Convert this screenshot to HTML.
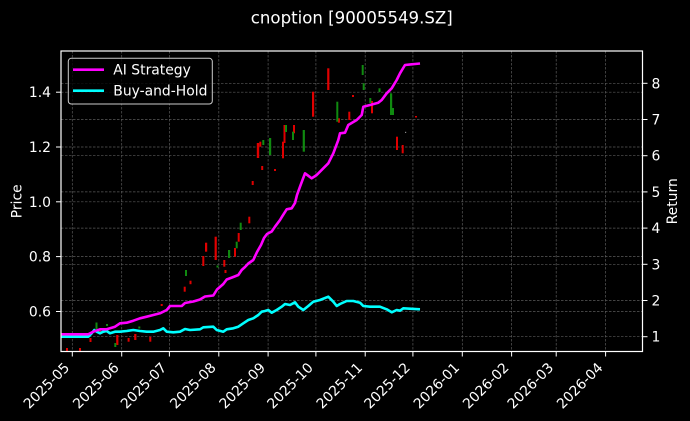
<!DOCTYPE html>
<html><head><meta charset="utf-8"><style>
html,body{margin:0;padding:0;background:#000;}
svg{display:block;}
text{font-family:"DejaVu Sans","Liberation Sans",sans-serif;fill:#fff;}
</style></head><body>
<svg width="690" height="421" viewBox="0 0 690 421" xmlns="http://www.w3.org/2000/svg">
<rect x="0" y="0" width="690" height="421" fill="#000"/>
<text x="351.8" y="23.5" font-size="16.6" text-anchor="middle">cnoption [90005549.SZ]</text>
<g stroke="#5a5a5a" stroke-width="0.7" stroke-dasharray="2.5,1.5" fill="none">
<line x1="72.3" y1="51" x2="72.3" y2="351.5"/>
<line x1="121.7" y1="51" x2="121.7" y2="351.5"/>
<line x1="169.4" y1="51" x2="169.4" y2="351.5"/>
<line x1="218.8" y1="51" x2="218.8" y2="351.5"/>
<line x1="268.1" y1="51" x2="268.1" y2="351.5"/>
<line x1="315.9" y1="51" x2="315.9" y2="351.5"/>
<line x1="365.2" y1="51" x2="365.2" y2="351.5"/>
<line x1="412.9" y1="51" x2="412.9" y2="351.5"/>
<line x1="462.3" y1="51" x2="462.3" y2="351.5"/>
<line x1="511.6" y1="51" x2="511.6" y2="351.5"/>
<line x1="556.2" y1="51" x2="556.2" y2="351.5"/>
<line x1="605.6" y1="51" x2="605.6" y2="351.5"/>
<line x1="61" y1="311.5" x2="642.5" y2="311.5"/>
<line x1="61" y1="256.6" x2="642.5" y2="256.6"/>
<line x1="61" y1="201.8" x2="642.5" y2="201.8"/>
<line x1="61" y1="147" x2="642.5" y2="147"/>
<line x1="61" y1="92.2" x2="642.5" y2="92.2"/>
<line x1="61" y1="336.7" x2="642.5" y2="336.7"/>
<line x1="61" y1="300.5" x2="642.5" y2="300.5"/>
<line x1="61" y1="264.3" x2="642.5" y2="264.3"/>
<line x1="61" y1="228.1" x2="642.5" y2="228.1"/>
<line x1="61" y1="191.9" x2="642.5" y2="191.9"/>
<line x1="61" y1="155.7" x2="642.5" y2="155.7"/>
<line x1="61" y1="119.5" x2="642.5" y2="119.5"/>
<line x1="61" y1="83.3" x2="642.5" y2="83.3"/>
</g>
<!-- candles -->
<g fill="#e00000">
<rect x="66" y="348" width="2" height="3.5"/>
<rect x="79" y="348" width="2" height="3.5"/>
<rect x="89.5" y="338" width="2" height="4"/>
<rect x="99.2" y="330.5" width="2" height="2.5"/>
<rect x="116.2" y="335" width="2.2" height="10"/>
<rect x="127.6" y="338" width="2" height="3.7"/>
<rect x="134.2" y="334" width="2.2" height="6"/>
<rect x="149.3" y="336.7" width="2" height="5"/>
<rect x="160.7" y="304" width="2" height="2"/>
<rect x="183.7" y="286.7" width="2" height="5"/>
<rect x="189.5" y="280.7" width="2" height="3.5"/>
<rect x="202.3" y="256" width="2" height="10"/>
<rect x="205" y="242.7" width="2.2" height="9"/>
<rect x="214.6" y="236.7" width="2.2" height="23.3"/>
<rect x="223.3" y="260" width="2" height="6.7"/>
<rect x="224.5" y="270" width="2" height="3"/>
<rect x="234" y="248" width="2" height="8.7"/>
<rect x="237.7" y="233" width="2" height="8.7"/>
<rect x="248.3" y="216.7" width="2" height="6.6"/>
<rect x="251.7" y="181" width="2" height="4"/>
<rect x="256.8" y="143" width="2.4" height="15"/>
<rect x="259.3" y="141.7" width="2" height="5"/>
<rect x="261.2" y="166" width="2" height="4"/>
<rect x="274" y="169" width="2" height="2"/>
<rect x="282" y="141.7" width="2" height="16.6"/>
<rect x="283.5" y="125" width="2" height="18"/>
<rect x="293" y="125" width="2" height="8.3"/>
<rect x="312" y="91.7" width="2.2" height="25"/>
<rect x="327.2" y="68.3" width="2.2" height="21.7"/>
<rect x="337.9" y="118.3" width="2" height="4.4"/>
<rect x="348.3" y="111.7" width="2" height="8.3"/>
<rect x="352" y="95" width="2" height="2"/>
<rect x="371" y="101" width="2" height="12.3"/>
<rect x="396" y="136.7" width="2" height="13.3"/>
<rect x="401.7" y="145" width="2" height="8.3"/>
<rect x="415" y="116" width="2" height="1.5"/>
</g>
<g fill="#108a10">
<rect x="95.5" y="322.5" width="2" height="6.5"/>
<rect x="106" y="324" width="2" height="2"/>
<rect x="114.3" y="343" width="2" height="4"/>
<rect x="138.3" y="326.5" width="2" height="2"/>
<rect x="185" y="270" width="2" height="6"/>
<rect x="216.5" y="265.5" width="2" height="2"/>
<rect x="228" y="250" width="2.2" height="8"/>
<rect x="235.7" y="241.7" width="2" height="6.6"/>
<rect x="239.7" y="222.7" width="2" height="7.3"/>
<rect x="262.3" y="140" width="2" height="5"/>
<rect x="269" y="138" width="2.2" height="17"/>
<rect x="285" y="125" width="2" height="7"/>
<rect x="292" y="131.7" width="2" height="8.3"/>
<rect x="302.7" y="130" width="2.2" height="21.7"/>
<rect x="336.3" y="101.7" width="2" height="20"/>
<rect x="361.7" y="65" width="2" height="10"/>
<rect x="362.7" y="83.3" width="2" height="6.7"/>
<rect x="369.3" y="98" width="2" height="5"/>
<rect x="378.5" y="88.3" width="2" height="3.7"/>
<rect x="390" y="93.3" width="2.2" height="21.7"/>
<rect x="392" y="108" width="2" height="7"/>
</g>
<rect x="405" y="131.8" width="1.2" height="1.2" fill="#888"/>
<!-- Buy-and-Hold -->
<polyline fill="none" stroke="#00ffff" stroke-width="2.6" stroke-linejoin="round" points="61.5,336.7 88.3,336.7 91.7,333.3 94.3,330 96.7,331.7 100,333.3 103.3,331.7 106.7,331 110,333.3 115,331.7 120,331.7 126.7,331 133.3,330 140,331 146.7,331.7 153.3,331.7 160,330 163.3,328.3 166.7,331.7 173.3,332.3 180,331.7 185,329 190,330 200,329.3 203.3,327.3 213.3,326.7 216.7,330 223.3,331.7 226.7,329.3 233.3,328.3 238.3,326.7 243.3,323.3 248.3,320 253.3,318.3 258.3,315 261.7,311.7 265,311 268.3,310 271.7,312.7 276.7,310 281.7,306.7 285,304 290,305 295,302.3 298.3,306.7 303.3,310 308.3,306 313.3,301.7 320,300 328.3,296.7 333.3,301.7 336.7,306 340,304 346.7,301 353.3,301 360,302.7 363.3,306 370,306.7 380,306.7 386.7,309.3 391.7,312.3 396.7,310 400,310.7 403.3,308.3 420,309.3"/>
<!-- AI Strategy -->
<polyline fill="none" stroke="#ff00ff" stroke-width="2.6" stroke-linejoin="round" points="61.5,334.3 88.3,334.3 93.3,331.7 100,329.3 106.7,329.3 115,326.7 120,323.3 126.7,322.7 133.3,320.7 140,318.3 146.7,316.7 153.3,315 160,313.3 166.7,310 170,306 181.7,306 185,303 193.3,301.5 200,299.5 205,296.5 213.3,295.5 217,289.5 223.3,284 226.7,279.5 233.3,277 238.3,275 241.7,270 245,267 248.3,263.5 253.3,260 257,252 261,245 264,238 267,234 271.7,231.5 275,226.7 280,220 282,216.7 286.7,209.3 291.7,208.3 295,203 297,195 300,186.7 305,173.3 311.7,178.3 316.7,175 323.3,168.3 328.3,163.3 333.3,153.3 338.3,140 340,133.3 345,132.7 348.3,125 356.7,120 361.7,115 363.3,106.7 370,105 378.3,102.7 381.7,100 386.7,93.3 391.7,88.3 396.7,80 400,73.3 405,65 411.7,64.3 415,64 420,63.5"/>
<!-- spines -->
<rect x="61" y="51" width="581.5" height="300.5" fill="none" stroke="#fff" stroke-width="1.2"/>
<g stroke="#fff" stroke-width="1">
<line x1="56" y1="311.5" x2="61" y2="311.5"/>
<line x1="56" y1="256.6" x2="61" y2="256.6"/>
<line x1="56" y1="201.8" x2="61" y2="201.8"/>
<line x1="56" y1="147" x2="61" y2="147"/>
<line x1="56" y1="92.2" x2="61" y2="92.2"/>
<line x1="642.5" y1="336.7" x2="647.5" y2="336.7"/>
<line x1="642.5" y1="300.5" x2="647.5" y2="300.5"/>
<line x1="642.5" y1="264.3" x2="647.5" y2="264.3"/>
<line x1="642.5" y1="228.1" x2="647.5" y2="228.1"/>
<line x1="642.5" y1="191.9" x2="647.5" y2="191.9"/>
<line x1="642.5" y1="155.7" x2="647.5" y2="155.7"/>
<line x1="642.5" y1="119.5" x2="647.5" y2="119.5"/>
<line x1="642.5" y1="83.3" x2="647.5" y2="83.3"/>
<line x1="72.3" y1="351.5" x2="72.3" y2="356.5"/>
<line x1="121.7" y1="351.5" x2="121.7" y2="356.5"/>
<line x1="169.4" y1="351.5" x2="169.4" y2="356.5"/>
<line x1="218.8" y1="351.5" x2="218.8" y2="356.5"/>
<line x1="268.1" y1="351.5" x2="268.1" y2="356.5"/>
<line x1="315.9" y1="351.5" x2="315.9" y2="356.5"/>
<line x1="365.2" y1="351.5" x2="365.2" y2="356.5"/>
<line x1="412.9" y1="351.5" x2="412.9" y2="356.5"/>
<line x1="462.3" y1="351.5" x2="462.3" y2="356.5"/>
<line x1="511.6" y1="351.5" x2="511.6" y2="356.5"/>
<line x1="556.2" y1="351.5" x2="556.2" y2="356.5"/>
<line x1="605.6" y1="351.5" x2="605.6" y2="356.5"/>
</g>
<g font-size="13.9" text-anchor="end">
<text x="51" y="316.5">0.6</text>
<text x="51" y="261.6">0.8</text>
<text x="51" y="206.8">1.0</text>
<text x="51" y="152">1.2</text>
<text x="51" y="97.2">1.4</text>
</g>
<g font-size="13.9" text-anchor="start">
<text x="651.5" y="341.7">1</text>
<text x="651.5" y="305.5">2</text>
<text x="651.5" y="269.3">3</text>
<text x="651.5" y="233.1">4</text>
<text x="651.5" y="196.9">5</text>
<text x="651.5" y="160.7">6</text>
<text x="651.5" y="124.5">7</text>
<text x="651.5" y="88.3">8</text>
</g>
<g font-size="13.9" text-anchor="end">
<text transform="translate(70.3,368.5) rotate(-45)">2025-05</text>
<text transform="translate(119.7,368.5) rotate(-45)">2025-06</text>
<text transform="translate(167.4,368.5) rotate(-45)">2025-07</text>
<text transform="translate(216.8,368.5) rotate(-45)">2025-08</text>
<text transform="translate(266.1,368.5) rotate(-45)">2025-09</text>
<text transform="translate(313.9,368.5) rotate(-45)">2025-10</text>
<text transform="translate(363.2,368.5) rotate(-45)">2025-11</text>
<text transform="translate(410.9,368.5) rotate(-45)">2025-12</text>
<text transform="translate(460.3,368.5) rotate(-45)">2026-01</text>
<text transform="translate(509.6,368.5) rotate(-45)">2026-02</text>
<text transform="translate(554.2,368.5) rotate(-45)">2026-03</text>
<text transform="translate(603.6,368.5) rotate(-45)">2026-04</text>
</g>
<text transform="translate(21.5,201.3) rotate(-90)" font-size="13.9" text-anchor="middle">Price</text>
<text transform="translate(677,201.3) rotate(-90)" font-size="13.9" text-anchor="middle">Return</text>
<!-- legend -->
<rect x="68.3" y="58.3" width="144" height="45.7" rx="3" ry="3" fill="#000" fill-opacity="0.8" stroke="#cccccc" stroke-width="1"/>
<line x1="73" y1="69.7" x2="104" y2="69.7" stroke="#ff00ff" stroke-width="2.6"/>
<line x1="73" y1="90.7" x2="104" y2="90.7" stroke="#00ffff" stroke-width="2.6"/>
<text x="113.3" y="74.7" font-size="13.9">AI Strategy</text>
<text x="113.3" y="95.7" font-size="13.9">Buy-and-Hold</text>
</svg>
</body></html>
